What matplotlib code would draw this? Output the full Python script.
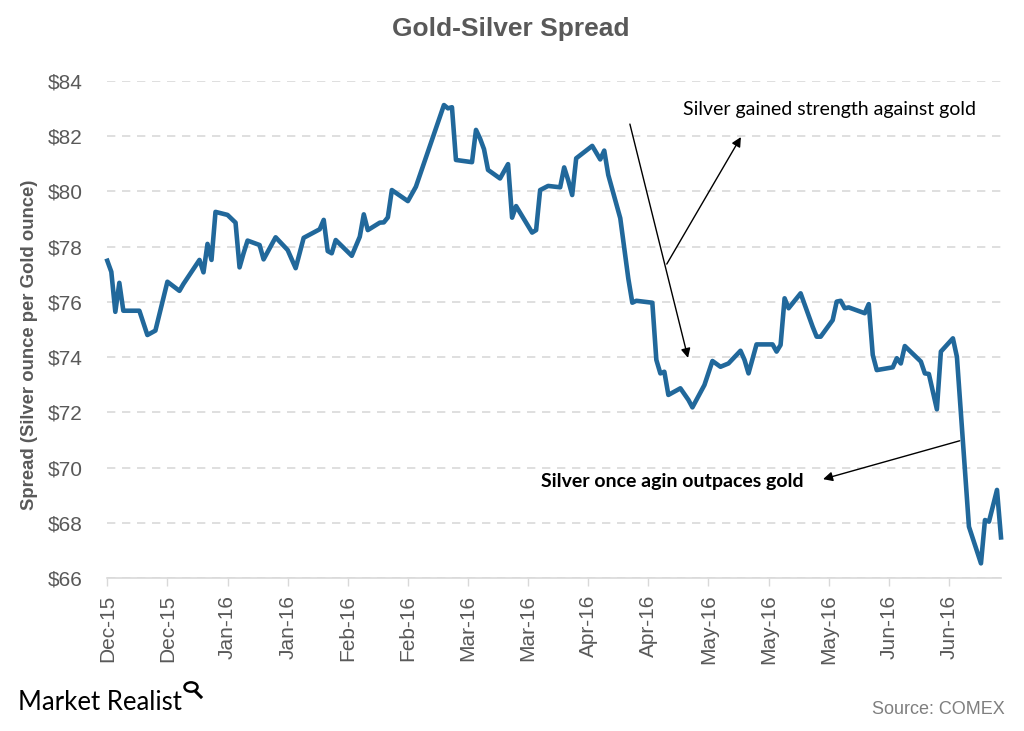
import matplotlib
matplotlib.use("Agg")
import matplotlib.pyplot as plt
import matplotlib.dates as mdates
import pandas as pd
import numpy as np
from matplotlib.patches import Circle
from matplotlib.lines import Line2D

dates = [
    "2015-12-03", "2015-12-04", "2015-12-05", "2015-12-06", "2015-12-07", "2015-12-11",
    "2015-12-13", "2015-12-15", "2015-12-18", "2015-12-21", "2015-12-22", "2015-12-26",
    "2015-12-27", "2015-12-28", "2015-12-29", "2015-12-30", "2016-01-02", "2016-01-04",
    "2016-01-05", "2016-01-06", "2016-01-07", "2016-01-10", "2016-01-11", "2016-01-14",
    "2016-01-17", "2016-01-19", "2016-01-21", "2016-01-25", "2016-01-26", "2016-01-27",
    "2016-01-28", "2016-01-29", "2016-02-02", "2016-02-04", "2016-02-05", "2016-02-06",
    "2016-02-09", "2016-02-10", "2016-02-11", "2016-02-12", "2016-02-16", "2016-02-18",
    "2016-02-25", "2016-02-26", "2016-02-27", "2016-02-28", "2016-03-03", "2016-03-04",
    "2016-03-05", "2016-03-06", "2016-03-07", "2016-03-10", "2016-03-12", "2016-03-13",
    "2016-03-14", "2016-03-18", "2016-03-19", "2016-03-20", "2016-03-22", "2016-03-25",
    "2016-03-26", "2016-03-27", "2016-03-28", "2016-03-29", "2016-04-02", "2016-04-04",
    "2016-04-05", "2016-04-06", "2016-04-09", "2016-04-11", "2016-04-12", "2016-04-13",
    "2016-04-17", "2016-04-18", "2016-04-19", "2016-04-20", "2016-04-21", "2016-04-24",
    "2016-04-26", "2016-04-27", "2016-04-30", "2016-05-02", "2016-05-04", "2016-05-06",
    "2016-05-09", "2016-05-10", "2016-05-11", "2016-05-13", "2016-05-17", "2016-05-18",
    "2016-05-19", "2016-05-20", "2016-05-21", "2016-05-24", "2016-05-27", "2016-05-28",
    "2016-05-29", "2016-06-01", "2016-06-02", "2016-06-03", "2016-06-04", "2016-06-05",
    "2016-06-09", "2016-06-10", "2016-06-11", "2016-06-12", "2016-06-16", "2016-06-17",
    "2016-06-18", "2016-06-19", "2016-06-23", "2016-06-24", "2016-06-25", "2016-06-27",
    "2016-06-28", "2016-07-01", "2016-07-02", "2016-07-05", "2016-07-08", "2016-07-09",
    "2016-07-10", "2016-07-12", "2016-07-13",
]

spread = [
    77.49, 77.09, 75.64, 76.69, 75.68, 75.68,
    74.80, 74.96, 76.73, 76.40, 76.65, 77.52,
    77.07, 78.10, 77.52, 79.26, 79.15, 78.87,
    77.25, 77.76, 78.22, 78.06, 77.54, 78.34,
    77.88, 77.22, 78.32, 78.63, 78.97, 77.84,
    77.76, 78.24, 77.67, 78.36, 79.17, 78.60,
    78.87, 78.88, 79.06, 80.05, 79.65, 80.17,
    83.13, 83.01, 83.05, 81.14, 81.06, 82.23,
    81.92, 81.53, 80.78, 80.47, 80.99, 79.05,
    79.47, 78.51, 78.60, 80.05, 80.20, 80.15,
    80.87, 80.41, 79.87, 81.20, 81.65, 81.16,
    81.48, 80.60, 79.03, 76.85, 75.97, 76.04,
    75.97, 73.90, 73.41, 73.47, 72.63, 72.87,
    72.45, 72.18, 72.99, 73.86, 73.65, 73.77,
    74.23, 73.90, 73.41, 74.46, 74.46, 74.20,
    74.44, 76.13, 75.77, 76.31, 75.10, 74.74,
    74.74, 75.34, 76.01, 76.04, 75.77, 75.80,
    75.59, 75.92, 74.08, 73.53, 73.63, 73.96,
    73.77, 74.40, 73.84, 73.41, 73.39, 72.11,
    74.20, 74.68, 74.01, 67.86, 66.53, 68.10,
    68.04, 69.19, 67.47,
]

title = "Gold-Silver Spread"
y_label = "Spread (Silver ounce per Gold ounce)"
y_ticks = [66, 68, 70, 72, 74, 76, 78, 80, 82, 84]
tick_start = "2015-12-03"
tick_step_days = 15
n_ticks = 15
note_up = "Silver gained strength against gold"
note_down = "Silver once agin outpaces gold"
source = "Source: COMEX"
brand = "Market Realist"

x = pd.to_datetime(dates)
grey = "#595959"

fig = plt.figure(figsize=(10.24, 7.31), dpi=100)
ax = fig.add_axes([107.3 / 1024, 1 - 578 / 731, (1001 - 107.3) / 1024, (578 - 81) / 731])

ax.plot(x, spread, color="#21689B", lw=3.3, solid_joinstyle="round", zorder=3, clip_on=False)

ax.set_ylim(66, 84)
ax.set_yticks(y_ticks)
ax.set_yticklabels([f"${v}" for v in y_ticks], fontsize=15, color=grey, family="Liberation Sans")
ax.tick_params(axis="y", length=0, pad=18)
ax.yaxis.grid(True, color="#d9d9d9", linestyle=(0, (5, 4)), lw=1.2)
ax.set_axisbelow(True)

ticks = pd.date_range(tick_start, periods=n_ticks, freq=f"{tick_step_days}D")
ax.set_xlim(x[0], x[-1])
ax.set_xticks(ticks)
ax.set_xticklabels([t.strftime("%b-%y") for t in ticks], rotation=90, fontsize=15,
                   color=grey, family="Liberation Sans")
ax.tick_params(axis="x", length=6, color="#d9d9d9", width=1, pad=6)

for s in ["top", "right", "left"]:
    ax.spines[s].set_visible(False)
ax.spines["bottom"].set_color("#d9d9d9")
ax.spines["bottom"].set_linewidth(1.2)

fig.text(30 / 1024, 1 - 345 / 731, y_label, rotation=90, ha="center", va="center",
         fontsize=13.3, fontweight="bold", color=grey, family="Liberation Sans")
fig.text(511 / 1024, 1 - 29 / 731, title, ha="center", va="center", fontsize=19,
         fontweight="bold", color=grey, family="Liberation Sans")

base = pd.Timestamp(tick_start)
def dd(days):
    return mdates.date2num(base + pd.Timedelta(days=days))

arrow = dict(arrowstyle="-|>", color="black", lw=1.0, mutation_scale=14, shrinkA=0, shrinkB=0)
ax.annotate("", xy=(dd(144.9), 73.97), xytext=(dd(130.4), 82.44), arrowprops=arrow, zorder=4)
ax.annotate("", xy=(dd(158.1), 81.97), xytext=(dd(139.6), 77.37), arrowprops=arrow, zorder=4)
ax.annotate("", xy=(dd(178.6), 69.58), xytext=(dd(212.7), 70.97), arrowprops=arrow, zorder=4)

ax.text(dd(143.6), 82.95, note_up, fontsize=14, family="Lato", color="black",
        ha="left", va="center")
ax.text(dd(108.2), 69.51, note_down, fontsize=14, family="Lato", fontweight="bold",
        color="black", ha="left", va="center")

fig.text(1005 / 1024, 1 - 710 / 731, source, ha="right", va="center", fontsize=13,
         color="#7f7f7f", family="Liberation Sans")
fig.text(18 / 1024, 1 - 702 / 731, brand, ha="left", va="center", fontsize=18.5,
         color="black", family="Lato")

# magnifier icon next to brand
cx, cy = 191 / 1024, 1 - 687 / 731
fig.patches.append(Circle((cx, cy), 6.5 / 1024, transform=fig.transFigure, fill=False,
                          edgecolor="black", lw=1.8))
fig.lines.append(Line2D([cx + 4.5 / 1024, cx + 10 / 1024], [cy - 4.5 / 731, cy - 10 / 731],
                        transform=fig.transFigure, color="black", lw=2.2))

fig.savefig("out.png", dpi=100, facecolor="white")
